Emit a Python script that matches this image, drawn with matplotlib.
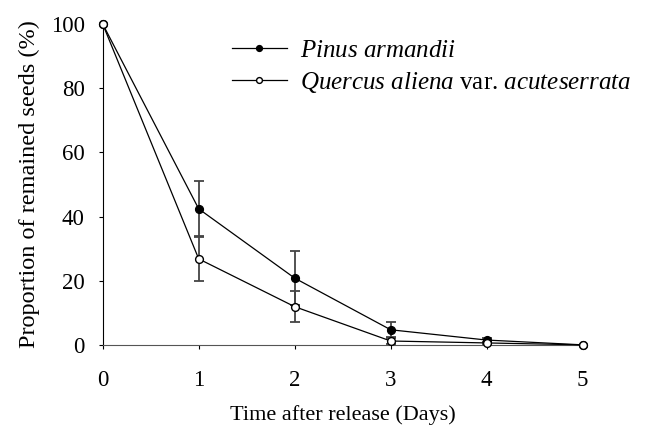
import matplotlib
matplotlib.use("Agg")
import matplotlib.pyplot as plt

plt.rcParams['font.family'] = ['Liberation Serif', 'DejaVu Serif']
plt.rcParams['mathtext.fontset'] = 'custom'
plt.rcParams['mathtext.rm'] = 'Liberation Serif'
plt.rcParams['mathtext.it'] = 'Liberation Serif:italic'

days = [0, 1, 2, 3, 4, 5]
pinus = [100, 42.4, 20.8, 4.7, 1.5, 0]
pinus_err = [0, 8.6, 8.4, 2.3, 0.5, 0]
quercus = [100, 26.8, 11.9, 1.2, 0.6, 0]
quercus_err = [0, 6.9, 4.9, 0.8, 0.4, 0]
yticks = [0, 20, 40, 60, 80, 100]

fig = plt.figure(figsize=(6.46, 4.30), dpi=100)
ax = fig.add_axes([0.159, 0.198, 0.743, 0.746])

ax.errorbar(days, pinus, yerr=pinus_err, fmt='none', ecolor='#444444',
            elinewidth=1.3, capsize=3.6, capthick=1.3, zorder=2)
ax.errorbar(days, quercus, yerr=quercus_err, fmt='none', ecolor='#444444',
            elinewidth=1.3, capsize=3.6, capthick=1.3, zorder=2)
ax.plot(days, pinus, '-o', color='black', lw=0.9, markersize=5.6,
        markerfacecolor='black', markeredgecolor='black', zorder=3,
        clip_on=False, label=r'$\it{Pinus\ armandii}$')
ax.plot(days, quercus, '-o', color='black', lw=0.9, markersize=5.6,
        markerfacecolor='white', markeredgecolor='black', zorder=4,
        clip_on=False, label=r'$\it{Quercus\ aliena}$ var. $\it{acuteserrata}$')

ax.set_xlim(0, 5)
ax.set_ylim(0, 100)
ax.set_xticks(days)
ax.set_yticks(yticks)
ax.spines['top'].set_visible(False)
ax.spines['right'].set_visible(False)
ax.spines['bottom'].set_color('#555555')
ax.tick_params(direction='out', length=3, labelsize=16.5)
ax.tick_params(axis='x', pad=15)
ax.tick_params(axis='y', pad=10)
ax.set_xlabel('Time after release (Days)', fontsize=16, labelpad=10)
ax.set_ylabel('Proportion of remained seeds (%)', fontsize=17.5, labelpad=8)
for s in ax.spines.values():
    s.set_clip_on(False)

ax.legend(loc='upper left', bbox_to_anchor=(0.248, 0.983), frameon=False,
          fontsize=18, handlelength=2.2, handletextpad=0.55,
          labelspacing=0.3, borderaxespad=0, markerscale=0.75)

fig.savefig('out.png', dpi=100)
